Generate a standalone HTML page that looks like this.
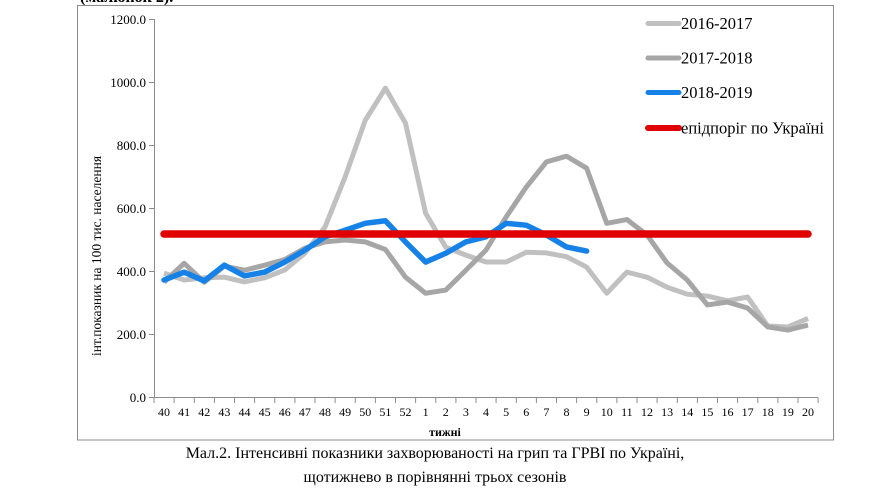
<!DOCTYPE html>
<html><head><meta charset="utf-8"><style>
html,body{margin:0;padding:0;background:#fff;}
body{width:887px;height:492px;overflow:hidden;position:relative;}
svg{position:absolute;left:0;top:0;}
text{font-family:"Liberation Serif","DejaVu Serif",serif;fill:#000;}
</style></head><body>
<svg width="887" height="492" viewBox="0 0 887 492" xmlns="http://www.w3.org/2000/svg">
<text x="80" y="2" font-size="16" font-weight="bold">(малюнок 2).</text>
<rect x="77.5" y="5.5" width="756" height="434.5" fill="none" stroke="#8c8c8c" stroke-width="1"/>
<!-- y axis -->
<line x1="154.5" y1="19" x2="154.5" y2="398" stroke="#8c8c8c" stroke-width="1"/>
<g stroke="#8c8c8c" stroke-width="1">
<line x1="149" y1="19.5" x2="154.5" y2="19.5"/>
<line x1="149" y1="82.5" x2="154.5" y2="82.5"/>
<line x1="149" y1="145.5" x2="154.5" y2="145.5"/>
<line x1="149" y1="208.5" x2="154.5" y2="208.5"/>
<line x1="149" y1="271.5" x2="154.5" y2="271.5"/>
<line x1="149" y1="334.5" x2="154.5" y2="334.5"/>
<line x1="149" y1="397.5" x2="154.5" y2="397.5"/>
</g>
<g font-size="13" text-anchor="end">
<text x="146" y="24">1200.0</text>
<text x="146" y="87">1000.0</text>
<text x="146" y="150">800.0</text>
<text x="146" y="213">600.0</text>
<text x="146" y="276">400.0</text>
<text x="146" y="339">200.0</text>
<text x="146" y="402">0.0</text>
</g>
<text transform="translate(101,256) rotate(-90)" font-size="13.5" text-anchor="middle">інт.показник на 100 тис. населення</text>
<!-- x axis -->
<line x1="154" y1="397.5" x2="818" y2="397.5" stroke="#8c8c8c" stroke-width="1"/>
<g stroke="#8c8c8c" stroke-width="1" id="xt"></g>
<g font-size="12" text-anchor="middle" id="xl"></g>
<text x="445" y="436" font-size="12" font-weight="bold" text-anchor="middle">тижні</text>
<!-- series -->
<g transform="translate(164,397.5) scale(20.125,-0.315)" fill="none" stroke-linejoin="round">
<polyline vector-effect="non-scaling-stroke" stroke="#c0c0c0" stroke-width="5" points="0,395 1,373 2,380 3,382 4,367 5,380 6,405 7,458 8,541 9,700 10,880 11,982 12,871 13,585 14,477 15,452 16,430 17,430 18,461 19,459 20,447 21,414 22,331 23,398 24,382 25,350 26,328 27,322 28,307 29,319 30,227 31,224 32,251"/>
<polyline vector-effect="non-scaling-stroke" stroke="#a6a6a6" stroke-width="5" points="0,366 1,426 2,366 3,417 4,404 5,420 6,438 7,474 8,494 9,500 10,494 11,470 12,382 13,331 14,341 15,404 16,468 17,573 18,668 19,748 20,766 21,728 22,553 23,565 24,516 25,427 26,373 27,294 28,303 29,284 30,224 31,214 32,230"/>
<polyline vector-effect="non-scaling-stroke" stroke="#1682e8" stroke-width="5.5" stroke-linecap="round" points="0,373 1,398 2,370 3,420 4,386 5,398 6,430 7,468 8,510 9,531 10,553 11,561 12,494 13,430 14,458 15,494 16,510 17,553 18,547 19,516 20,478 21,465"/>
</g>
<line x1="164" y1="234" x2="808" y2="234" stroke="#e00000" stroke-width="7.5" stroke-linecap="round"/>
<!-- legend -->
<g stroke-linecap="round">
<line x1="648" y1="23.5" x2="679" y2="23.5" stroke="#c0c0c0" stroke-width="5"/>
<line x1="648" y1="58" x2="679" y2="58" stroke="#a6a6a6" stroke-width="5"/>
<line x1="648" y1="92.5" x2="679" y2="92.5" stroke="#1682e8" stroke-width="5"/>
<line x1="648" y1="128" x2="679" y2="128" stroke="#e00000" stroke-width="6"/>
</g>
<g font-size="16.5">
<text x="681" y="29">2016-2017</text>
<text x="681" y="63.5">2017-2018</text>
<text x="681" y="98">2018-2019</text>
<text x="681" y="133.5">епідпоріг по Україні</text>
</g>
<!-- caption -->
<g font-size="16" text-anchor="middle">
<text x="435" y="458">Мал.2. Інтенсивні показники захворюваності на грип та ГРВІ по Україні,</text>
<text x="435" y="482">щотижнево в порівнянні трьох сезонів</text>
</g>
</svg>
<script>
(function(){
var ns="http://www.w3.org/2000/svg";
var xt=document.getElementById("xt"), xl=document.getElementById("xl");
var labels=[];
for(var w=40;w<=52;w++)labels.push(w);
for(var w=1;w<=20;w++)labels.push(w);
for(var i=0;i<=33;i++){
  var x=154+i*20.125;
  var l=document.createElementNS(ns,"line");
  l.setAttribute("x1",x.toFixed(1));l.setAttribute("x2",x.toFixed(1));
  l.setAttribute("y1","397.5");l.setAttribute("y2","403");
  xt.appendChild(l);
}
for(var i=0;i<labels.length;i++){
  var t=document.createElementNS(ns,"text");
  t.setAttribute("x",(164+i*20.125).toFixed(1));
  t.setAttribute("y","416");
  t.textContent=labels[i];
  xl.appendChild(t);
}
})();
</script>
</body></html>
